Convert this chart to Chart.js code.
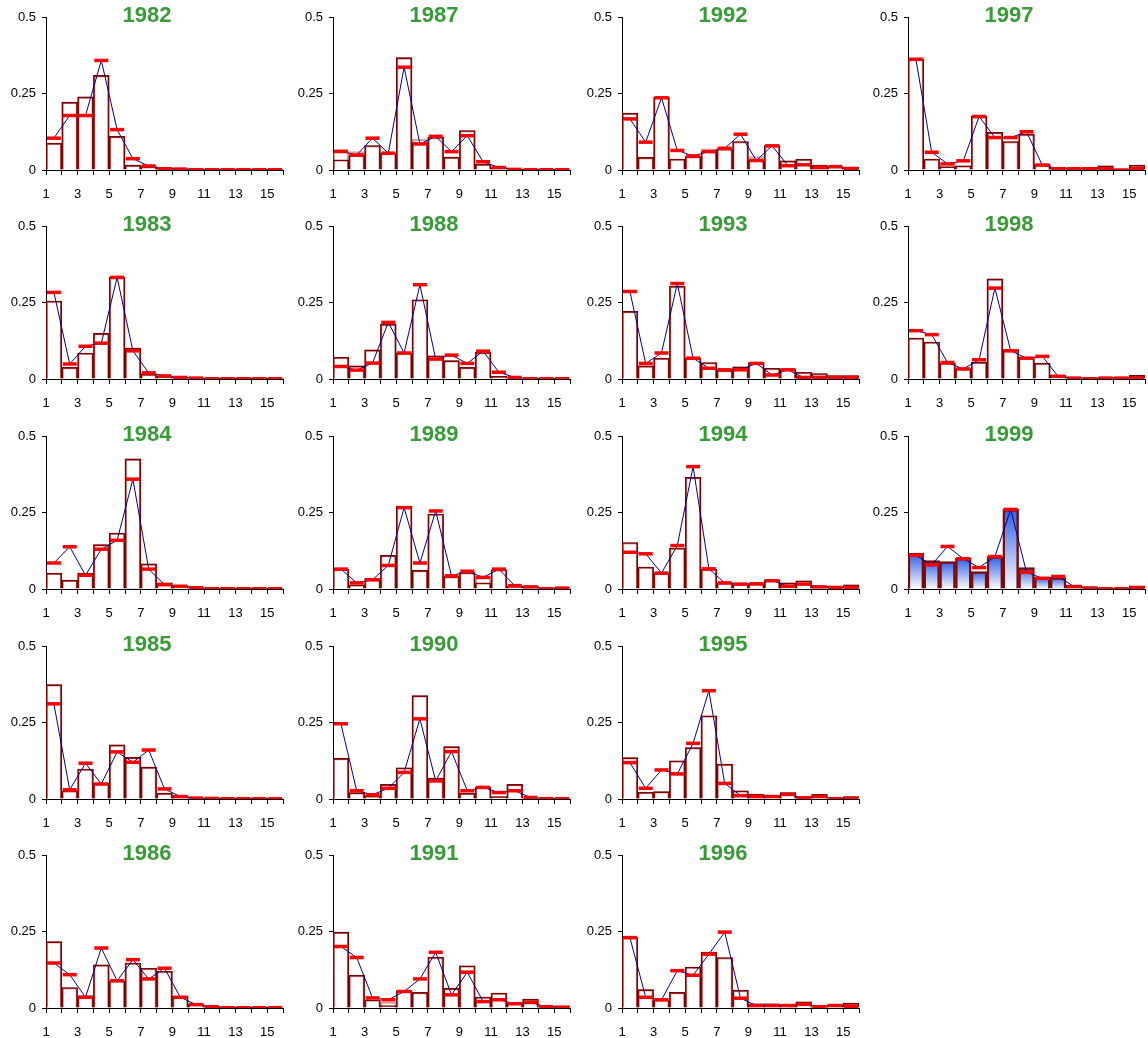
<!DOCTYPE html>
<html lang="en">
<head>
    <meta charset="UTF-8">
    <title>Age composition by year</title>
    <script src="https://cdn.jsdelivr.net/npm/chart.js"></script>
    <style>
        body {
            margin: 0;
            background: #fff;
        }
        #grid {
            position: relative;
            width: 1148px;
            height: 1038px;
        }
        #grid canvas {
            position: absolute;
        }
    </style>
</head>
<body>
    <div id="grid"></div>

    <script>
        // age classes (bars sit between tick k and k+1)
        const ages = [1, 2, 3, 4, 5, 6, 7, 8, 9, 10, 11, 12, 13, 14, 15];
        const xTicks = [1, 2, 3, 4, 5, 6, 7, 8, 9, 10, 11, 12, 13, 14, 15, 16];
        const yTicks = [0, 0.25, 0.5];

        const obs1982 = [0.088, 0.222, 0.239, 0.309, 0.110, 0.016, 0.011, 0.008, 0.005, 0.004, 0.001, 0.001, 0.001, 0.001, 0.001];
        const fit1982 = [0.104, 0.178, 0.178, 0.358, 0.132, 0.037, 0.013, 0.004, 0.003, 0.001, 0.001, 0.001, 0.001, 0.001, 0.001];

        const obs1983 = [0.255, 0.038, 0.085, 0.149, 0.332, 0.101, 0.016, 0.009, 0.005, 0.003, 0.001, 0.001, 0.001, 0.001, 0.001];
        const fit1983 = [0.283, 0.049, 0.107, 0.117, 0.332, 0.092, 0.020, 0.010, 0.005, 0.003, 0.001, 0.001, 0.001, 0.001, 0.001];

        const obs1984 = [0.052, 0.029, 0.052, 0.145, 0.183, 0.425, 0.082, 0.020, 0.011, 0.005, 0.001, 0.001, 0.001, 0.001, 0.001];
        const fit1984 = [0.085, 0.138, 0.045, 0.130, 0.159, 0.359, 0.065, 0.014, 0.009, 0.004, 0.001, 0.001, 0.001, 0.001, 0.001];

        const obs1985 = [0.374, 0.027, 0.098, 0.051, 0.177, 0.136, 0.104, 0.019, 0.011, 0.004, 0.003, 0.001, 0.001, 0.001, 0.001];
        const fit1985 = [0.311, 0.030, 0.117, 0.049, 0.154, 0.120, 0.160, 0.033, 0.008, 0.003, 0.002, 0.001, 0.001, 0.001, 0.001];

        const obs1986 = [0.217, 0.067, 0.040, 0.141, 0.089, 0.147, 0.130, 0.120, 0.038, 0.013, 0.005, 0.001, 0.001, 0.001, 0.001];
        const fit1986 = [0.147, 0.109, 0.035, 0.196, 0.089, 0.158, 0.095, 0.130, 0.035, 0.011, 0.004, 0.001, 0.001, 0.001, 0.001];

        const obs1987 = [0.060, 0.060, 0.080, 0.055, 0.367, 0.101, 0.107, 0.042, 0.129, 0.019, 0.008, 0.002, 0.001, 0.001, 0.001];
        const inner1987 = [0.033, 0.048, 0.080, 0.055, 0.367, 0.090, 0.107, 0.042, 0.129, 0.019, 0.008, 0.002, 0.001, 0.001, 0.001];
        const fit1987 = [0.061, 0.049, 0.104, 0.055, 0.336, 0.085, 0.110, 0.060, 0.112, 0.027, 0.008, 0.002, 0.001, 0.001, 0.001];

        const obs1988 = [0.071, 0.043, 0.095, 0.179, 0.085, 0.259, 0.076, 0.060, 0.038, 0.087, 0.009, 0.003, 0.001, 0.001, 0.001];
        const fit1988 = [0.041, 0.029, 0.052, 0.185, 0.085, 0.308, 0.065, 0.078, 0.051, 0.091, 0.022, 0.005, 0.001, 0.001, 0.001];

        const obs1989 = [0.065, 0.014, 0.034, 0.110, 0.270, 0.061, 0.245, 0.041, 0.054, 0.041, 0.063, 0.009, 0.009, 0.001, 0.005];
        const inner1989 = [0.065, 0.014, 0.034, 0.110, 0.270, 0.061, 0.245, 0.041, 0.054, 0.020, 0.063, 0.009, 0.009, 0.001, 0.005];
        const fit1989 = [0.065, 0.020, 0.030, 0.077, 0.266, 0.085, 0.255, 0.043, 0.058, 0.038, 0.065, 0.011, 0.007, 0.001, 0.003];

        const obs1990 = [0.133, 0.021, 0.010, 0.048, 0.102, 0.338, 0.068, 0.171, 0.019, 0.038, 0.008, 0.048, 0.002, 0.001, 0.001];
        const fit1990 = [0.246, 0.027, 0.014, 0.035, 0.087, 0.262, 0.059, 0.155, 0.027, 0.038, 0.021, 0.027, 0.005, 0.001, 0.001];

        const obs1991 = [0.248, 0.107, 0.027, 0.020, 0.057, 0.051, 0.166, 0.064, 0.138, 0.036, 0.049, 0.016, 0.029, 0.005, 0.007];
        const inner1991 = [0.248, 0.107, 0.027, 0.008, 0.057, 0.051, 0.166, 0.064, 0.138, 0.036, 0.049, 0.016, 0.029, 0.005, 0.007];
        const fit1991 = [0.201, 0.165, 0.033, 0.027, 0.054, 0.095, 0.182, 0.043, 0.117, 0.021, 0.027, 0.014, 0.018, 0.004, 0.002];

        const obs1992 = [0.186, 0.041, 0.238, 0.036, 0.044, 0.069, 0.069, 0.093, 0.044, 0.080, 0.030, 0.035, 0.016, 0.011, 0.009];
        const inner1992 = [0.186, 0.041, 0.238, 0.036, 0.044, 0.060, 0.069, 0.093, 0.033, 0.080, 0.030, 0.035, 0.016, 0.011, 0.009];
        const fit1992 = [0.167, 0.091, 0.236, 0.064, 0.046, 0.060, 0.071, 0.117, 0.031, 0.079, 0.014, 0.017, 0.008, 0.011, 0.005];

        const obs1993 = [0.221, 0.043, 0.068, 0.303, 0.068, 0.054, 0.029, 0.040, 0.054, 0.035, 0.033, 0.022, 0.018, 0.011, 0.011];
        const fit1993 = [0.286, 0.051, 0.085, 0.312, 0.068, 0.035, 0.030, 0.030, 0.051, 0.013, 0.030, 0.005, 0.005, 0.005, 0.005];

        const obs1994 = [0.152, 0.072, 0.052, 0.134, 0.365, 0.065, 0.020, 0.017, 0.017, 0.030, 0.020, 0.027, 0.009, 0.009, 0.014];
        const fit1994 = [0.120, 0.115, 0.052, 0.142, 0.400, 0.066, 0.020, 0.016, 0.017, 0.027, 0.009, 0.016, 0.007, 0.005, 0.005];

        const obs1995 = [0.135, 0.022, 0.024, 0.125, 0.168, 0.272, 0.114, 0.027, 0.016, 0.011, 0.021, 0.008, 0.015, 0.004, 0.008];
        const fit1995 = [0.119, 0.035, 0.095, 0.082, 0.182, 0.354, 0.051, 0.011, 0.008, 0.008, 0.015, 0.004, 0.008, 0.001, 0.002];

        const obs1996 = [0.230, 0.060, 0.027, 0.051, 0.134, 0.183, 0.165, 0.058, 0.014, 0.014, 0.011, 0.020, 0.003, 0.011, 0.016];
        const fit1996 = [0.230, 0.035, 0.027, 0.122, 0.107, 0.176, 0.248, 0.032, 0.008, 0.008, 0.008, 0.012, 0.004, 0.008, 0.005];

        const obs1997 = [0.362, 0.036, 0.022, 0.014, 0.175, 0.123, 0.093, 0.117, 0.019, 0.009, 0.005, 0.009, 0.014, 0.000, 0.016];
        const inner1997 = [0.362, 0.036, 0.011, 0.014, 0.175, 0.123, 0.093, 0.117, 0.019, 0.009, 0.005, 0.009, 0.014, 0.000, 0.016];
        const fit1997 = [0.362, 0.058, 0.020, 0.030, 0.175, 0.106, 0.106, 0.125, 0.016, 0.004, 0.004, 0.004, 0.004, 0.000, 0.004];

        const obs1998 = [0.134, 0.121, 0.052, 0.034, 0.055, 0.327, 0.096, 0.072, 0.052, 0.012, 0.005, 0.003, 0.005, 0.005, 0.012];
        const fit1998 = [0.158, 0.145, 0.054, 0.033, 0.063, 0.297, 0.092, 0.068, 0.074, 0.009, 0.003, 0.001, 0.003, 0.003, 0.003];

        const obs1999 = [0.117, 0.093, 0.090, 0.101, 0.057, 0.106, 0.260, 0.070, 0.038, 0.037, 0.013, 0.008, 0.002, 0.001, 0.010];
        const fit1999 = [0.110, 0.079, 0.139, 0.099, 0.070, 0.106, 0.260, 0.055, 0.035, 0.041, 0.008, 0.002, 0.001, 0.001, 0.004];

        // panels go down each column, then across
        const panels = [
            { year: 1982, obs: obs1982, fit: fit1982 },
            { year: 1983, obs: obs1983, fit: fit1983 },
            { year: 1984, obs: obs1984, fit: fit1984 },
            { year: 1985, obs: obs1985, fit: fit1985 },
            { year: 1986, obs: obs1986, fit: fit1986 },
            { year: 1987, obs: obs1987, fit: fit1987, inner: inner1987 },
            { year: 1988, obs: obs1988, fit: fit1988 },
            { year: 1989, obs: obs1989, fit: fit1989, inner: inner1989 },
            { year: 1990, obs: obs1990, fit: fit1990 },
            { year: 1991, obs: obs1991, fit: fit1991, inner: inner1991 },
            { year: 1992, obs: obs1992, fit: fit1992, inner: inner1992 },
            { year: 1993, obs: obs1993, fit: fit1993 },
            { year: 1994, obs: obs1994, fit: fit1994 },
            { year: 1995, obs: obs1995, fit: fit1995 },
            { year: 1996, obs: obs1996, fit: fit1996 },
            { year: 1997, obs: obs1997, fit: fit1997, inner: inner1997 },
            { year: 1998, obs: obs1998, fit: fit1998 },
            { year: 1999, obs: obs1999, fit: fit1999, shaded: true }
        ];

        const colLeft = [0, 287, 576, 862];
        const rowTop = [0, 209, 419, 629, 838];
        const W = 287, H = 209;

        Chart.defaults.font.family = 'Arial, "Liberation Sans", sans-serif';
        Chart.defaults.color = '#000';

        // year label sits inside the plot, over the top of the bars
        const yearTitle = {
            id: 'yearTitle',
            afterDraw(chart, args, opts) {
                const c = chart.ctx;
                c.save();
                c.font = 'bold 22px Arial, "Liberation Sans", sans-serif';
                c.fillStyle = '#379c37';
                c.textAlign = 'center';
                c.textBaseline = 'middle';
                c.fillText(opts.text, 147, 16);
                c.restore();
            }
        };

        function points(values) {
            return values.map((v, i) => ({ x: ages[i] + 0.5, y: v }));
        }

        // blue-to-white fill per bar
        function barGradient(ctx) {
            const chart = ctx.chart;
            if (!chart.chartArea || !ctx.parsed) return 'rgba(0,0,0,0)';
            const y = chart.scales.y;
            const top = y.getPixelForValue(ctx.parsed.y);
            const base = y.getPixelForValue(0);
            const g = chart.ctx.createLinearGradient(0, top, 0, base);
            g.addColorStop(0, '#2d5ee6');
            g.addColorStop(1, '#ffffff');
            return g;
        }

        const grid = document.getElementById('grid');

        panels.forEach((p, n) => {
            const col = Math.floor(n / 5);
            const row = n % 5;
            const canvas = document.createElement('canvas');
            canvas.width = W;
            canvas.height = H;
            canvas.style.left = colLeft[col] + 'px';
            canvas.style.top = rowTop[row] + 'px';
            grid.appendChild(canvas);

            const inner = p.inner || p.obs;

            new Chart(canvas.getContext('2d'), {
                type: 'bar',
                data: {
                    datasets: [
                        {
                            type: 'line',
                            data: points(p.fit),
                            borderColor: '#00008b',
                            borderWidth: 1,
                            tension: 0,
                            fill: false,
                            pointStyle: 'line',
                            pointRadius: 7,
                            pointBorderWidth: 3.5,
                            pointBorderColor: '#ff0000',
                            pointBackgroundColor: '#ff0000',
                            order: 0
                        },
                        {
                            data: points(inner),
                            grouped: false,
                            barPercentage: 1,
                            categoryPercentage: 1,
                            backgroundColor: 'rgba(255,255,255,0)',
                            borderColor: '#800000',
                            borderWidth: p.shaded ? 0 : 1,
                            order: 1
                        },
                        {
                            data: points(p.obs),
                            grouped: false,
                            barPercentage: 1,
                            categoryPercentage: 1,
                            backgroundColor: p.shaded ? barGradient : 'rgba(255,255,255,0)',
                            borderColor: p.shaded ? '#7a0a0a' : 'rgba(170,90,90,0.55)',
                            borderWidth: p.shaded ? 2.5 : 1.6,
                            order: 2
                        }
                    ]
                },
                options: {
                    responsive: false,
                    animation: false,
                    events: [],
                    layout: { autoPadding: false, padding: { top: 17, right: 4, left: 0, bottom: 0 } },
                    plugins: {
                        legend: { display: false },
                        tooltip: { enabled: false },
                        yearTitle: { text: String(p.year) }
                    },
                    scales: {
                        x: {
                            type: 'linear',
                            min: 1,
                            max: 16,
                            offset: false,
                            afterBuildTicks: s => { s.ticks = xTicks.map(v => ({ value: v })); },
                            afterFit: s => { s.height = 39; s.paddingLeft = 0; s.paddingRight = 0; },
                            grid: { drawOnChartArea: false, drawTicks: true, tickLength: 5, color: '#000', offset: false },
                            border: { display: true, color: '#000', width: 1 },
                            ticks: {
                                autoSkip: false,
                                maxRotation: 0,
                                padding: 12,
                                font: { size: 13 },
                                callback: v => (v % 2 === 1 ? String(v) : '')
                            }
                        },
                        y: {
                            min: 0,
                            max: 0.5,
                            afterBuildTicks: s => { s.ticks = yTicks.map(v => ({ value: v })); },
                            afterFit: s => { s.width = 46; },
                            grid: { drawOnChartArea: false, tickLength: 4, color: '#000' },
                            border: { display: true, color: '#000', width: 1 },
                            ticks: { padding: 6, font: { size: 13 }, callback: v => String(v) }
                        }
                    }
                },
                plugins: [yearTitle]
            });
        });
    </script>
</body>
</html>
